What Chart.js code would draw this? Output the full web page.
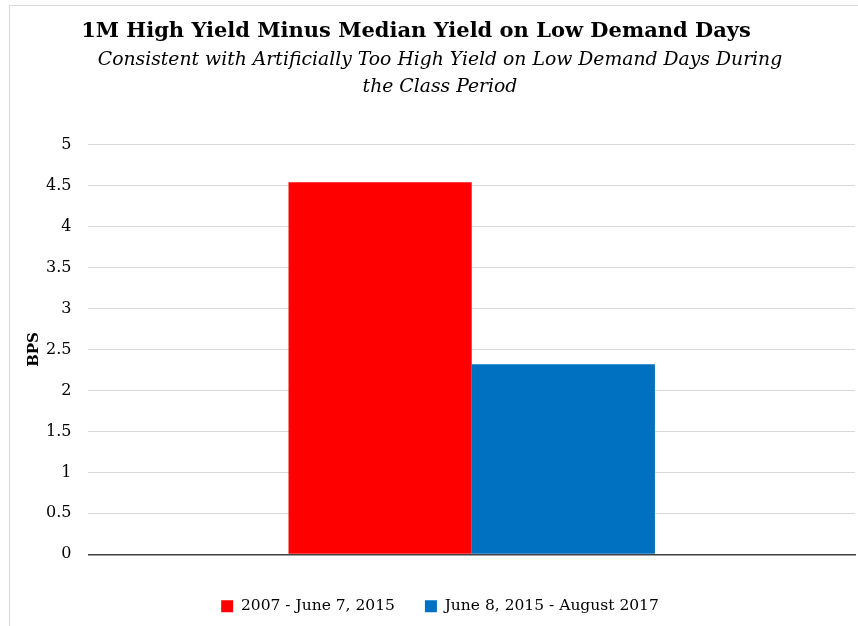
<!DOCTYPE html>
<html>
<head>
<meta charset="utf-8">
<script src="https://cdn.jsdelivr.net/npm/chart.js@4"></script>
<style>
  html, body { margin: 0; padding: 0; background: #fff; }
  #wrap { position: relative; width: 858px; height: 626px; }
</style>
</head>
<body>
<div id="wrap"><canvas id="chart" width="858" height="626"></canvas></div>
<script>
const categories = [""];
const seriesLabels = ["2007 - June 7, 2015", "June 8, 2015 - August 2017"];
const earlyPeriod = [4.54];
const latePeriod = [2.32];
const yMin = 0;
const yMax = 5;
const yStep = 0.5;

const SERIF = "'DejaVu Serif', 'Liberation Serif', serif";

// white page plus the thin frame Excel leaves round the chart
const frame = {
    id: "frame",
    beforeDraw(chart) {
        const ctx = chart.ctx;
        ctx.save();
        ctx.fillStyle = "#fff";
        ctx.fillRect(0, 0, chart.width, chart.height);
        ctx.strokeStyle = "#d9d9d9";
        ctx.lineWidth = 1;
        ctx.beginPath();
        ctx.moveTo(9.5, chart.height);
        ctx.lineTo(9.5, 5.5);
        ctx.lineTo(chart.width, 5.5);
        ctx.stroke();
        ctx.restore();
    },
};

// the main title sits a little left of the subtitle in the original
const titleNudge = {
    id: "titleNudge",
    afterLayout(chart) {
        if (chart.titleBlock) {
            chart.titleBlock.left -= 48;
        }
    },
};

new Chart(document.getElementById("chart"), {
    type: "bar",
    data: {
        labels: categories,
        datasets: [
            {
                label: seriesLabels[0],
                data: earlyPeriod,
                backgroundColor: "#ff0000",
            },
            {
                label: seriesLabels[1],
                data: latePeriod,
                backgroundColor: "#0070c0",
            },
        ],
    },
    options: {
        responsive: false,
        animation: false,
        layout: { padding: { left: 25, right: 3, top: 19, bottom: 2 } },
        datasets: { bar: { categoryPercentage: 0.478, barPercentage: 1 } },
        plugins: {
            title: {
                display: true,
                text: "1M High Yield Minus Median Yield on Low Demand Days",
                color: "#000",
                font: { family: SERIF, size: 21, weight: "bold" },
                padding: { top: 0, bottom: 3 },
            },
            subtitle: {
                display: true,
                text: [
                    "Consistent with Artificially Too High Yield on Low Demand Days During",
                    "the Class Period",
                ],
                color: "#000",
                font: { family: SERIF, size: 18.8, style: "italic", lineHeight: 1.42 },
                padding: { top: 0, bottom: 44 },
            },
            legend: {
                position: "bottom",
                labels: {
                    color: "#000",
                    font: { family: SERIF, size: 15.5 },
                    boxWidth: 12,
                    boxHeight: 12,
                    padding: 30,
                },
            },
            tooltip: { enabled: false },
        },
        scales: {
            x: {
                ticks: { display: false },
                grid: { display: false },
                border: { display: true, color: "#404040", width: 1.5 },
                // blank title only to hold the gap above the legend
                title: { display: true, text: "", font: { size: 1 }, padding: { top: 5, bottom: 0 } },
            },
            y: {
                min: yMin,
                max: yMax,
                ticks: {
                    stepSize: yStep,
                    color: "#000",
                    font: { family: SERIF, size: 16 },
                    padding: 17,
                    callback: (v) => String(v),
                },
                grid: { color: "#d9d9d9", drawTicks: false },
                border: { display: false },
                title: {
                    display: true,
                    text: "BPS",
                    color: "#000",
                    font: { family: SERIF, size: 15, weight: "bold" },
                    padding: { top: 0, bottom: -14 },
                },
            },
        },
    },
    plugins: [frame, titleNudge],
});
</script>
</body>
</html>
